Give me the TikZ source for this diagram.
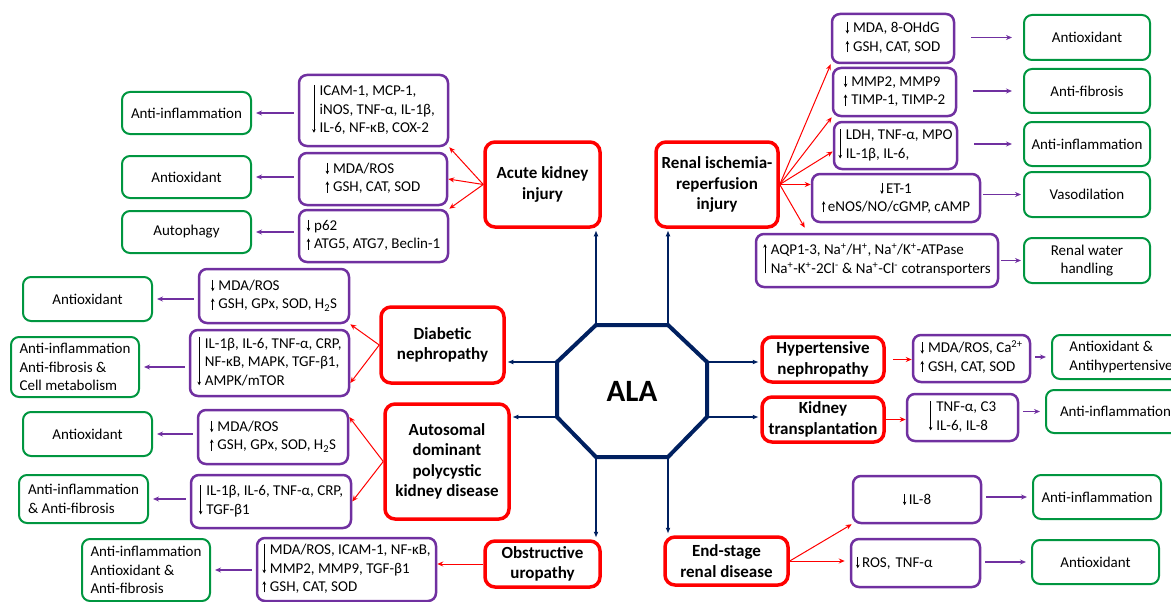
\documentclass[tikz,border=0pt]{standalone}
\usepackage{fontspec}
\setmainfont{Carlito}
\usetikzlibrary{arrows.meta}
\definecolor{navy}{RGB}{0,32,96}
\definecolor{vio}{RGB}{112,48,160}
\definecolor{grn}{RGB}{0,150,64}
\tikzset{vtip/.style={black,line width=0.7pt,-{Stealth[length=3.5pt,width=3.5pt]}}}
% small up/down arrows in front of the markers
\newcommand{\arrdn}{\tikz[baseline=0pt]\draw[vtip] (0,0.7em)--(0,-0.05em);}
\newcommand{\arrup}{\tikz[baseline=0pt]\draw[vtip] (0,-0.05em)--(0,0.7em);}
\newcommand{\arrdnl}[1]{\smash{\tikz[baseline=0pt]\draw[vtip] (0,0.72em)--(0,-#1);}}
\newcommand{\arrupl}[1]{\smash{\tikz[baseline=0pt]\draw[vtip] (0,-#1)--(0,0.72em);}}
\newcommand{\tabrows}[1]{\begin{tabular}{@{}l@{\hspace{4pt}}l@{}}#1\end{tabular}}
\begin{document}
\begin{tikzpicture}[x=1pt,y=-1pt,
  sz/.style 2 args={minimum width=#1,minimum height=#2},
  dis/.style={draw=red,line width=3.5pt,rounded corners=10pt,inner sep=1pt,align=center,font=\bfseries\fontsize{17}{20.5}\selectfont},
  bio/.style={draw=vio,line width=2.5pt,rounded corners=8pt,inner sep=3pt,font=\fontsize{15}{18.5}\selectfont},
  eff/.style={draw=grn,line width=2pt,rounded corners=8pt,inner sep=3pt,align=center,font=\fontsize{15}{18.5}\selectfont},
  navarr/.style={navy,line width=1.6pt,-{Latex[length=6pt,width=5pt]}},
  redarr/.style={red,line width=1pt,-{Stealth[length=6pt,width=5pt]}},
  vioarr/.style={vio,line width=1.3pt,-{Stealth[length=6pt,width=5pt]}}]
\useasboundingbox (0,0) rectangle (1171,602);

% centre
\draw[navy,line width=4pt] (596,325) coordinate (o1) -- (668,325) coordinate (o2)
  -- (707,362) coordinate (o3) -- (707,417) coordinate (o4) -- (668,457) coordinate (o5)
  -- (596,457) coordinate (o6) -- (557,417) coordinate (o7) -- (557,362) coordinate (o8) -- cycle;
\node[font=\bfseries\fontsize{31}{36}\selectfont] (ala) at (632,391) {ALA};

% acute kidney injury
\node[dis,sz={115}{85}] (aki) at (542.5,184.5) {Acute kidney\\injury};
\node[bio,sz={149}{71}] (aki1) at (373.5,110.5) {\tabrows{\arrdnl{37pt}&ICAM-1, MCP-1,\\&iNOS, TNF-α, IL-1β,\\&IL-6, NF-κB, COX-2}};
\node[bio,sz={148}{52}] (aki2) at (373,179) {\tabrows{\arrdn&MDA/ROS\\\arrup&GSH, CAT, SOD}};
\node[bio,sz={149}{52}] (aki3) at (373.5,236) {\tabrows{\arrdn&p62\\\arrup&ATG5, ATG7, Beclin-1}};
\node[eff,sz={129}{42}] (gaki1) at (186.5,113) {Anti-inflammation};
\node[eff,sz={129}{42}] (gaki2) at (186.5,177) {Antioxidant};
\node[eff,sz={129}{42}] (gaki3) at (186.5,232) {Autophagy};

% renal ischemia-reperfusion injury
\node[dis,sz={122}{85}] (rir) at (717,184.5) {Renal ischemia-\\reperfusion\\injury};
\node[bio,sz={122}{49}] (rir1) at (893,38.5) {\tabrows{\arrdn&MDA, 8-OHdG\\\arrup&GSH, CAT, SOD}};
\node[bio,sz={123}{48}] (rir2) at (894.5,92) {\tabrows{\arrdn&MMP2, MMP9\\\arrup&TIMP-1, TIMP-2}};
\node[bio,sz={123}{47}] (rir3) at (895.5,145.5) {\tabrows{\arrdnl{18.5pt}&LDH, TNF-α, MPO\\&IL-1β, IL-6,}};
\node[bio,sz={168}{48},align=center] (rir4) at (896,198) {\arrdn\,ET-1\\\arrup\,eNOS/NO/cGMP, cAMP};
\node[bio,sz={242}{53}] (rir5) at (877,260.5) {\tabrows{\arrupl{18.5pt}&AQP1-3, Na\textsuperscript{+}/H\textsuperscript{+}, Na\textsuperscript{+}/K\textsuperscript{+}-ATPase\\&Na\textsuperscript{+}-K\textsuperscript{+}-2Cl\textsuperscript{-} \& Na\textsuperscript{+}-Cl\textsuperscript{-} cotransporters}};
\node[eff,sz={126}{45}] (grir1) at (1087,37.5) {Antioxidant};
\node[eff,sz={126}{44}] (grir2) at (1087,91) {Anti-fibrosis};
\node[eff,sz={126}{44}] (grir3) at (1087,144) {Anti-inflammation};
\node[eff,sz={126}{45}] (grir4) at (1087,194.5) {Vasodilation};
\node[eff,sz={126}{45}] (grir5) at (1087,260.5) {Renal water\\handling};

% diabetic nephropathy
\node[dis,sz={123}{76}] (dn) at (442.5,345) {Diabetic\\nephropathy};
\node[bio,sz={150}{54}] (dn1) at (274,296) {\tabrows{\arrdn&MDA/ROS\\\arrup&GSH, GPx, SOD, H\textsubscript{2}S}};
\node[bio,sz={159}{66}] (dn2) at (269.5,363) {\tabrows{\arrdnl{37pt}&IL-1β, IL-6, TNF-α, CRP,\\&NF-κB, MAPK, TGF-β1,\\&AMPK/mTOR}};
\node[eff,sz={129}{44}] (gdn1) at (87.5,299) {Antioxidant};
\node[eff,sz={128}{60},align=left] (gdn2) at (75,367) {Anti-inflammation\\Anti-fibrosis \&\\Cell metabolism};

% autosomal dominant polycystic kidney disease
\node[dis,sz={124}{115}] (adpkd) at (447,461.5) {Autosomal\\dominant\\polycystic\\kidney disease};
\node[bio,sz={150}{54}] (ad1) at (273,437) {\tabrows{\arrdn&MDA/ROS\\\arrup&GSH, GPx, SOD, H\textsubscript{2}S}};
\node[bio,sz={160}{53}] (ad2) at (271,501.5) {\tabrows{\arrdnl{18.5pt}&IL-1β, IL-6, TNF-α, CRP,\\&TGF-β1}};
\node[eff,sz={129}{44}] (gad1) at (87.5,434) {Antioxidant};
\node[eff,sz={129}{48},align=left] (gad2) at (83.5,499) {Anti-inflammation\\\& Anti-fibrosis};

% obstructive uropathy
\node[dis,sz={115}{46}] (ou) at (542.5,564) {Obstructive\\uropathy};
\node[bio,sz={179}{63}] (ou1) at (346.5,569.5) {\tabrows{\arrdnl{18.5pt}&MDA/ROS, ICAM-1, NF-κB,\\&MMP2, MMP9, TGF-β1\\\arrup&GSH, CAT, SOD}};
\node[eff,sz={128}{62},align=left] (gou) at (146,570) {Anti-inflammation\\Antioxidant \&\\Anti-fibrosis};

% hypertensive nephropathy, kidney transplantation
\node[dis,sz={122}{45}] (hn) at (823,359.5) {Hypertensive\\nephropathy};
\node[bio,sz={117}{47}] (hn1) at (971.5,358.5) {\tabrows{\arrdn&MDA/ROS, Ca\textsuperscript{2+}\\\arrup&GSH, CAT, SOD}};
\node[eff,sz={138}{44},align=left] (ghn) at (1121,357) {Antioxidant \&\\Antihypertensive};
\node[dis,sz={122}{45}] (kt) at (823,419.5) {Kidney\\transplantation};
\node[bio,sz={111}{47}] (kt1) at (962.5,417.5) {\tabrows{\arrdnl{18.5pt}&TNF-α, C3\\&IL-6, IL-8}};
\node[eff,sz={139}{43}] (gkt) at (1115.5,411.5) {Anti-inflammation};

% end-stage renal disease
\node[dis,sz={123}{48}] (esrd) at (726.5,561) {End-stage\\renal disease};
\node[bio,sz={128}{47}] (es1) at (917,499.5) {\arrdn\,IL-8};
\node[bio,sz={129}{48},text width=119pt,align=left] (es2) at (915.5,563) {\arrdn\,ROS, TNF-α};
\node[eff,sz={128}{44}] (ges1) at (1097,497) {Anti-inflammation};
\node[eff,sz={127}{44}] (ges2) at (1095.5,562) {Antioxidant};

% ALA -> diseases
\draw[navarr,shorten >=1.5pt] (o1) -- (o1 |- aki.south);
\draw[navarr,shorten >=1.5pt] (o2) -- (o2 |- rir.south);
\draw[navarr,shorten >=1.5pt] (o8) -- (o8 -| dn.east);
\draw[navarr,shorten >=1.5pt] (o7) -- (o7 -| adpkd.east);
\draw[navarr,shorten >=1.5pt] (o3) -- (o3 -| hn.west);
\draw[navarr,shorten >=1.5pt] (o4) -- (o4 -| kt.west);
\draw[navarr,shorten >=1.5pt] (o6) -- (o6 |- ou.north);
\draw[navarr,shorten >=1.5pt] (o5) -- (o5 |- esrd.north);

% diseases -> markers
\foreach \b in {aki1.south east,aki2.east,aki3.north east}
  \draw[redarr] (aki.west) -- (\b);
\draw[redarr] (rir.east) -- (rir1.south west);
\draw[redarr] (rir.east) -- (rir2.south west);
\draw[redarr] (rir.east) -- ([yshift=-6pt]rir3.west);
\draw[redarr] (rir.east) -- (rir.east -| rir4.west);
\draw[redarr] (rir.east) -- ([xshift=50pt,yshift=5pt]rir5.north west);
\draw[redarr] (dn.west) -- (dn1.south east);
\draw[redarr] (dn.west) -- ([yshift=-20pt]dn2.east);
\draw[redarr] (adpkd.west) -- ([yshift=20pt]ad1.east);
\draw[redarr] (adpkd.west) -- (ad2.east);
\draw[redarr] (ou.west) -- (ou.west -| ou1.east);
\draw[redarr,shorten <=7pt] (hn.east) -- (hn.east -| hn1.west);
\draw[redarr] (kt.east) -- (kt.east -| kt1.west);
\draw[redarr] (esrd.east) -- (es1.south west);
\draw[redarr,shorten >=5pt] (esrd.east) -- (esrd.east -| es2.west);

% markers -> effects
\foreach \a/\b in {aki1/gaki1,aki2/gaki2,aki3/gaki3,dn1/gdn1,dn2/gdn2,ad1/gad1,ad2/gad2,ou1/gou}
  \draw[vioarr,shorten <=4pt,shorten >=4pt] (\a.west |- \b.east) -- (\b.east);
\foreach \a/\b in {rir1/grir1,rir2/grir2,rir3/grir3}
  \draw[vioarr,shorten <=16pt,shorten >=11pt] (\a.east |- \b.west) -- (\b.west);
\foreach \a/\b in {rir4/grir4,rir5/grir5}
  \draw[vioarr,shorten <=2pt,shorten >=2pt] (\a.east |- \b.west) -- (\b.west);
\foreach \a/\b in {hn1/ghn,kt1/gkt,es1/ges1,es2/ges2}
  \draw[vioarr,shorten <=4pt,shorten >=5pt] (\a.east |- \b.west) -- (\b.west);
\end{tikzpicture}
\end{document}
